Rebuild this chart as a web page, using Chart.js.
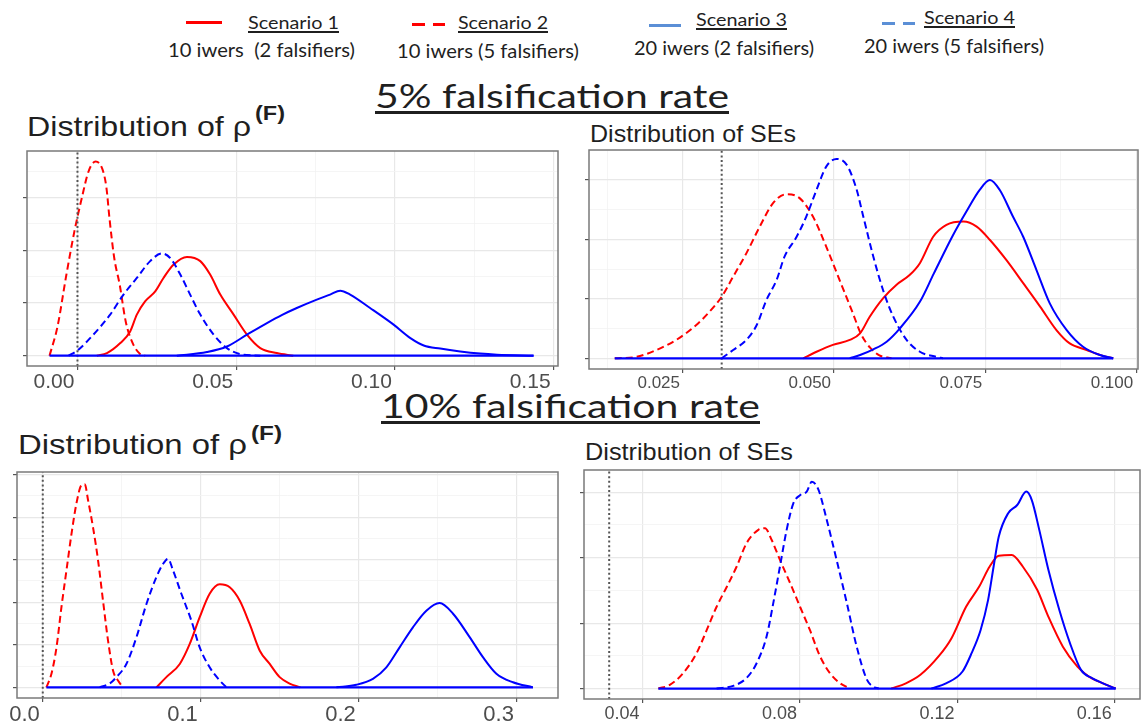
<!DOCTYPE html>
<html>
<head>
<meta charset="utf-8">
<script src="https://cdn.jsdelivr.net/npm/chart.js@4.4.0/dist/chart.umd.min.js"></script>
<style>
  html, body { margin: 0; padding: 0; background: #fff; }
  body { width: 1143px; height: 726px; position: relative; overflow: hidden; }
  .txt { position: absolute; white-space: pre; line-height: 1; transform-origin: left center; color: #1f1f1f; }
  .lato { font-family: Lato, "Open Sans", sans-serif; }
  .arial { font-family: "Liberation Sans", Arial, sans-serif; }
  .u { text-decoration: underline; text-decoration-thickness: 2px; text-underline-offset: 2px; }
  .big { text-decoration: underline; text-decoration-thickness: 3px; text-underline-offset: 3px; }
  .panel { position: absolute; }
  .key { position: absolute; height: 3px; }
</style>
</head>
<body>
<script>
// Данные: плотности (x, плотность)
// 5% — распределение rho(F)
const rho05_s1 = [[0.0061,0],[0.0093,1],[0.0135,4.8],[0.0166,9.2],[0.0187,15.6],[0.0213,20.6],[0.0245,24.4],[0.0271,29.5],[0.0303,34.6],[0.0345,37.5],[0.0387,35.9],[0.0418,30.8],[0.045,23.2],[0.0492,15.6],[0.0534,8],[0.0576,2.9],[0.0628,1],[0.068,0]];
const rho05_s2 = [[-0.0088,0],[-0.0063,11],[-0.0036,30],[-0.001,47],[0.0014,60],[0.0035,70],[0.0057,73.7],[0.0078,71],[0.0091,64],[0.0101,52],[0.0116,37],[0.0133,27],[0.0152,13],[0.0175,4.5],[0.0198,0.6],[0.0213,0]];
const rho05_s3 = [[0.0313,0],[0.0408,1.4],[0.0471,3.5],[0.0534,8],[0.0597,12.4],[0.0645,15.5],[0.0691,18.1],[0.0754,21.3],[0.0796,23.2],[0.0828,24.7],[0.0859,23.2],[0.0922,18.1],[0.0996,11.8],[0.1049,6.7],[0.1091,3.9],[0.1143,2.7],[0.1206,1.6],[0.1269,0.8],[0.1322,0.4],[0.1437,0]];
const rho05_s4 = [[-0.0028,0],[0.0003,2.3],[0.005,8],[0.0103,15.6],[0.0145,23.2],[0.0187,29.5],[0.0229,35.9],[0.0266,38.8],[0.0292,37.1],[0.0324,30.8],[0.0355,23.2],[0.0387,15.6],[0.0429,8],[0.0471,2.9],[0.0513,0.6],[0.0576,0]];

// 5% — распределение SE
const se05_s1 = [[0.0449,0],[0.0471,2.2],[0.0498,4.5],[0.0526,6.2],[0.0543,8.4],[0.0559,14],[0.0581,20.2],[0.0603,24.7],[0.0625,28],[0.0642,32],[0.0664,40.9],[0.0686,44.9],[0.0714,46],[0.0736,44.3],[0.0758,39.8],[0.0785,33.1],[0.0813,25.3],[0.0841,17.4],[0.0868,9.5],[0.089,5],[0.0918,2.8],[0.0945,0.8],[0.0962,0]];
const se05_s2 = [[0.0137,0],[0.0173,0.5],[0.0206,2.8],[0.0239,6.2],[0.0272,11.2],[0.0294,15.7],[0.0314,20.7],[0.0333,27.5],[0.0355,35.4],[0.0377,44.3],[0.0399,52.2],[0.0421,55.2],[0.0443,53.9],[0.0465,47.7],[0.0487,37.6],[0.0509,26.4],[0.0531,15.2],[0.0545,8],[0.056,3.5],[0.0575,1],[0.0595,0]];
const se05_s3 = [[0.0526,0],[0.0543,1.1],[0.0565,3],[0.0587,5.6],[0.0609,10.1],[0.0642,19],[0.0665,28.5],[0.0697,41.5],[0.0719,49.4],[0.0741,56.7],[0.0758,60],[0.0774,56.7],[0.0796,47.7],[0.0813,40.9],[0.0835,29.7],[0.0857,18.5],[0.0885,9.5],[0.0912,3.9],[0.094,1.1],[0.0962,0]];
const se05_s4 = [[0.0314,0],[0.0333,2.8],[0.0355,6.2],[0.0372,11.2],[0.0388,19.6],[0.0405,26.4],[0.0418,34.2],[0.0438,40.9],[0.0454,47.7],[0.0471,56.7],[0.0487,64.5],[0.0504,67.1],[0.0521,65.1],[0.0537,57],[0.0548,48],[0.0565,34.2],[0.0581,23],[0.0598,14],[0.062,6.2],[0.0642,2.2],[0.0669,0.5],[0.068,0]];

// 10% — распределение rho(F)
const rho10_s1 = [[0.0719,0],[0.0782,2.4],[0.0867,5.5],[0.093,10.2],[0.0993,16.5],[0.1056,22],[0.112,24.2],[0.1183,23.5],[0.1246,20.4],[0.1309,14.9],[0.1373,8.6],[0.1436,5.5],[0.1499,2.4],[0.1562,0.9],[0.163,0]];
const rho10_s2 = [[0.0023,0],[0.0055,3.2],[0.0087,9.4],[0.0118,18.8],[0.015,27.5],[0.0182,36.1],[0.0213,43.2],[0.0245,47.5],[0.0266,47.7],[0.0287,43.9],[0.0318,37.6],[0.035,29.8],[0.0381,20.4],[0.0413,11],[0.0445,3.9],[0.0476,1.6],[0.0508,0]];
const rho10_s3 = [[0.1858,0],[0.1984,0.6],[0.2089,2],[0.2174,4.7],[0.2258,9.4],[0.2342,14.1],[0.2427,18],[0.2511,19.8],[0.2596,17.3],[0.2701,11.8],[0.2785,7.1],[0.287,3.2],[0.2975,1.2],[0.3101,0]];
const rho10_s4 = [[0.036,0],[0.0424,0.9],[0.0466,2.4],[0.0529,5.5],[0.0593,11.8],[0.0656,19.6],[0.0719,25.9],[0.0761,29],[0.0793,30.2],[0.0824,27.5],[0.0877,22],[0.094,15.7],[0.0993,9.4],[0.1056,4.7],[0.112,1.6],[0.1162,0]];

// 10% — распределение SE
const se10_s1 = [[0.1032,0],[0.1069,1.6],[0.1106,4.2],[0.1152,9.8],[0.1185,15.4],[0.1222,25],[0.1255,31.1],[0.1282,37.3],[0.1305,40.6],[0.1338,40.8],[0.1366,37.3],[0.1403,30.1],[0.1431,22],[0.1468,12.8],[0.1505,6.7],[0.1533,3.7],[0.157,1.6],[0.1602,0]];
const se10_s2 = [[0.044,0],[0.0469,1.1],[0.0503,4.7],[0.0537,10.8],[0.0563,17.9],[0.0588,25],[0.0614,31.1],[0.0639,37.3],[0.0664,44.4],[0.0694,48.5],[0.0711,49],[0.0728,45.4],[0.0749,39.3],[0.0775,32.2],[0.08,25],[0.0825,17.9],[0.0851,9.8],[0.0876,4.7],[0.0902,1.6],[0.0927,0]];
const se10_s3 = [[0.1134,0],[0.1171,1.6],[0.1213,5.2],[0.1236,10.8],[0.1259,17.9],[0.1278,27.1],[0.1292,37.3],[0.1305,46.4],[0.1329,53.6],[0.1352,56.1],[0.1375,60.2],[0.1389,57.6],[0.1408,48.5],[0.1431,36.4],[0.1459,24],[0.1486,13.9],[0.1514,5.7],[0.1542,3.2],[0.157,1.6],[0.1602,0]];
const se10_s4 = [[0.0588,0],[0.063,0.8],[0.0664,3.2],[0.069,7.8],[0.0715,15.9],[0.0732,26.1],[0.0749,37.3],[0.0766,48.5],[0.0783,56.6],[0.08,59.1],[0.0817,60.2],[0.083,63.2],[0.0847,60.7],[0.0868,51.5],[0.0893,39.3],[0.0919,26.1],[0.0944,12.8],[0.097,2.7],[0.0986,0.6],[0.1,0]];

// Подписи осей
const rho05Ticks = [0, 0.05, 0.10, 0.15];
const rho05Labels = ["0.00", "0.05", "0.10", "0.15"];
const se05Ticks = [0.025, 0.050, 0.075, 0.100];
const se05Labels = ["0.025", "0.050", "0.075", "0.100"];
const rho10Ticks = [0.0, 0.1, 0.2, 0.3];
const rho10Labels = ["0.0", "0.1", "0.2", "0.3"];
const se10Ticks = [0.04, 0.08, 0.12, 0.16];
const se10Labels = ["0.04", "0.08", "0.12", "0.16"];
const densTicks = [0, 20, 40, 60];
const densTicksRho10 = [0, 10, 20, 30, 40, 50];

// Пунктирная вертикаль (истинное значение)
const refRho05 = 0;
const refSe05 = 0.0314;
const refRho10 = 0;
const refSe10 = 0.0315;

const RED = "#ff0000";
const BLUE = "#0000ff";

// Тексты
const texts = [
  { t: "Scenario 1", x: 248, cap: 17, size: 17, w: 91, cls: "lato u" },
  { t: "Scenario 2", x: 458, cap: 17, size: 17, w: 90, cls: "lato u" },
  { t: "Scenario 3", x: 696, cap: 13.5, size: 17, w: 91, cls: "lato u" },
  { t: "Scenario 4", x: 924, cap: 12, size: 17, w: 91, cls: "lato u" },
  { t: "10 iwers  (2 falsifiers)", x: 168, cap: 43.5, size: 19, w: 187, cls: "lato" },
  { t: "10 iwers (5 falsifiers)", x: 397, cap: 44, size: 19, w: 182, cls: "lato" },
  { t: "20 iwers (2 falsifiers)", x: 634, cap: 41, size: 19, w: 180, cls: "lato" },
  { t: "20 iwers (5 falsifiers)", x: 864, cap: 39.5, size: 19, w: 180, cls: "lato" },
  { t: "5% falsification rate", x: 375, cap: 85, size: 33, w: 354, cls: "lato big" },
  { t: "10% falsification rate", x: 381, cap: 395, size: 33, w: 379, cls: "lato big" },
  { t: "Distribution of ρ", x: 27, cap: 117, size: 28, w: 224, cls: "arial" },
  { t: "(F)", x: 255, cap: 106, size: 20, w: 30, cls: "arial", bold: true },
  { t: "Distribution of ρ", x: 18, cap: 435, size: 28, w: 229, cls: "arial" },
  { t: "(F)", x: 251, cap: 426, size: 20, w: 31, cls: "arial", bold: true },
  { t: "Distribution of SEs", x: 590, cap: 125, size: 24, w: 206, cls: "arial" },
  { t: "Distribution of SEs", x: 585, cap: 443, size: 24, w: 208, cls: "arial" },
];

texts.forEach((o) => {
  const el = document.createElement("div");
  el.className = "txt " + o.cls;
  el.textContent = o.t;
  const k = o.cls.indexOf("lato") >= 0 ? 0.17 : 0.13;
  el.style.left = o.x + "px";
  el.style.top = o.cap - k * o.size + "px";
  el.style.fontSize = o.size + "px";
  if (o.bold) el.style.fontWeight = "bold";
  el.dataset.w = o.w;
  document.body.appendChild(el);
});

function fitAll() {
  document.querySelectorAll("[data-w]").forEach((el) => {
    el.style.transform = "none";
    const nat = el.getBoundingClientRect().width;
    el.style.transform = `scaleX(${el.dataset.w / nat})`;
  });
}

// Легенда — образцы линий
const keys = [
  { x: 186, y: 21, w: 36, bg: RED },
  { x: 412, y: 23, w: 33, bg: `linear-gradient(90deg, ${RED} 0 13px, transparent 13px 21px, ${RED} 21px 33px)` },
  { x: 649, y: 24, w: 32, bg: "#5b8fd6" },
  { x: 882, y: 22, w: 33, bg: "linear-gradient(90deg, #5b8fd6 0 13px, transparent 13px 21px, #5b8fd6 21px 33px)" },
];
keys.forEach((k) => {
  const d = document.createElement("div");
  d.className = "key";
  d.style.left = k.x + "px";
  d.style.top = k.y + "px";
  d.style.width = k.w + "px";
  d.style.background = k.bg;
  document.body.appendChild(d);
});

// Рамка панели
const framePlugin = {
  id: "frame",
  afterDatasetsDraw(chart) {
    const { ctx, chartArea: a } = chart;
    ctx.save();
    ctx.strokeStyle = "#7a7a7a";
    ctx.lineWidth = 1.5;
    ctx.strokeRect(a.left, a.top, a.right - a.left, a.bottom - a.top);
    ctx.restore();
  },
};

const near = (a, b) => Math.abs(a - b) < 1e-9;
const pts = (arr) => arr.map((p) => ({ x: p[0], y: p[1] }));

function withMinor(major, min, max) {
  const half = (major[1] - major[0]) / 2;
  const out = [];
  for (let i = -4; i <= 40; i++) {
    const v = Math.round((major[0] + i * half) * 1e6) / 1e6;
    if (v >= min - 1e-9 && v <= max + 1e-9) out.push(v);
  }
  return out;
}

function makePanel(p) {
  const YW = 8, XH = 30, PT = 2, PR = 3;
  const f = p.frame;
  const W = Math.round(f.r - f.l + YW + PR);
  const H = Math.round(f.b - f.t + PT + XH);

  const box = document.createElement("div");
  box.className = "panel";
  box.style.left = f.l - YW + "px";
  box.style.top = f.t - PT + "px";
  const cv = document.createElement("canvas");
  cv.width = W;
  cv.height = H;
  cv.style.width = W + "px";
  cv.style.height = H + "px";
  box.appendChild(cv);
  document.body.appendChild(box);

  const allX = withMinor(p.xTicks, p.xMin, p.xMax);
  const allY = withMinor(p.yTicks, p.yMin, p.yMax);
  const isMajX = (v) => p.xTicks.some((m) => near(m, v));
  const isMajY = (v) => p.yTicks.some((m) => near(m, v));

  const curves = [p.s4, p.s3, p.s2, p.s1];
  const xsAll = curves.flat().map((q) => q[0]);
  const baseMin = Math.min(...xsAll);
  const baseMax = Math.max(...xsAll);

  const line = (data, color, dash) => ({
    data: pts(data),
    borderColor: color,
    borderWidth: 2,
    borderDash: dash || [],
    pointRadius: 0,
    cubicInterpolationMode: "monotone",
    fill: false,
  });

  new Chart(cv, {
    type: "line",
    data: {
      datasets: [
        { data: [{ x: baseMin, y: 0 }, { x: baseMax, y: 0 }], borderColor: BLUE, borderWidth: 2.2, pointRadius: 0 },
        { data: [{ x: p.ref, y: p.yMin }, { x: p.ref, y: p.yMax }], borderColor: "#555", borderWidth: 2, borderDash: [2, 2.6], pointRadius: 0 },
        line(p.s4, BLUE, [7, 4]),
        line(p.s3, BLUE),
        line(p.s2, RED, [7, 4]),
        line(p.s1, RED),
      ],
    },
    options: {
      responsive: false,
      animation: false,
      layout: { padding: { top: PT, right: PR, left: 0, bottom: 0 } },
      plugins: { legend: { display: false }, tooltip: { enabled: false } },
      scales: {
        x: {
          type: "linear",
          min: p.xMin,
          max: p.xMax,
          afterBuildTicks: (axis) => { axis.ticks = allX.map((v) => ({ value: v })); },
          afterFit: (s) => { s.height = XH; s.paddingLeft = 0; s.paddingRight = 0; },
          border: { display: false },
          grid: {
            color: (c) => (isMajX(c.tick.value) ? "#e8e8e8" : "#f2f2f2"),
            lineWidth: (c) => (isMajX(c.tick.value) ? 1.2 : 0.8),
            tickColor: (c) => (isMajX(c.tick.value) ? "#555" : "rgba(0,0,0,0)"),
            tickLength: 4,
          },
          ticks: {
            autoSkip: false,
            maxRotation: 0,
            align: "end",
            labelOffset: -3,
            padding: 0,
            color: "#4d4d4d",
            font: { size: p.font },
            callback: (v) => {
              const i = p.xTicks.findIndex((m) => near(m, v));
              return i >= 0 ? p.xLabels[i] : "";
            },
          },
        },
        y: {
          type: "linear",
          min: p.yMin,
          max: p.yMax,
          afterBuildTicks: (axis) => { axis.ticks = allY.map((v) => ({ value: v })); },
          afterFit: (s) => { s.width = YW; s.paddingTop = 0; s.paddingBottom = 0; },
          border: { display: false },
          grid: {
            color: (c) => (isMajY(c.tick.value) ? "#e8e8e8" : "#f2f2f2"),
            lineWidth: (c) => (isMajY(c.tick.value) ? 1.2 : 0.8),
            tickColor: (c) => (isMajY(c.tick.value) ? "#555" : "rgba(0,0,0,0)"),
            tickLength: 4,
          },
          ticks: { display: false },
        },
      },
    },
    plugins: [framePlugin],
  });
}

makePanel({
  frame: { l: 26.7, t: 150.5, r: 557.7, b: 365 },
  xMin: -0.0159, xMax: 0.1514, xTicks: rho05Ticks, xLabels: rho05Labels,
  yMin: -3.9, yMax: 77.7, yTicks: densTicks, font: 21, ref: refRho05,
  s1: rho05_s1, s2: rho05_s2, s3: rho05_s3, s4: rho05_s4,
});
makePanel({
  frame: { l: 589.3, t: 150, r: 1138.5, b: 369 },
  xMin: 0.00944, xMax: 0.1003, xTicks: se05Ticks, xLabels: se05Labels,
  yMin: -3.6, yMax: 70.1, yTicks: densTicks, font: 17, ref: refSe05,
  s1: se05_s1, s2: se05_s2, s3: se05_s3, s4: se05_s4,
});
makePanel({
  frame: { l: 17.3, t: 471.7, r: 558.3, b: 697.3 },
  xMin: -0.0163, xMax: 0.326, xTicks: rho10Ticks, xLabels: rho10Labels,
  yMin: -2.5, yMax: 50.6, yTicks: densTicksRho10, font: 22, ref: refRho10,
  s1: rho10_s1, s2: rho10_s2, s3: rho10_s3, s4: rho10_s4,
});
makePanel({
  frame: { l: 584, t: 470, r: 1140, b: 699.3 },
  xMin: 0.0251, xMax: 0.1664, xTicks: se10Ticks, xLabels: se10Labels,
  yMin: -3.2, yMax: 66.8, yTicks: densTicks, font: 18, ref: refSe10,
  s1: se10_s1, s2: se10_s2, s3: se10_s3, s4: se10_s4,
});

fitAll();
if (document.fonts && document.fonts.ready) document.fonts.ready.then(fitAll);
</script>
</body>
</html>
